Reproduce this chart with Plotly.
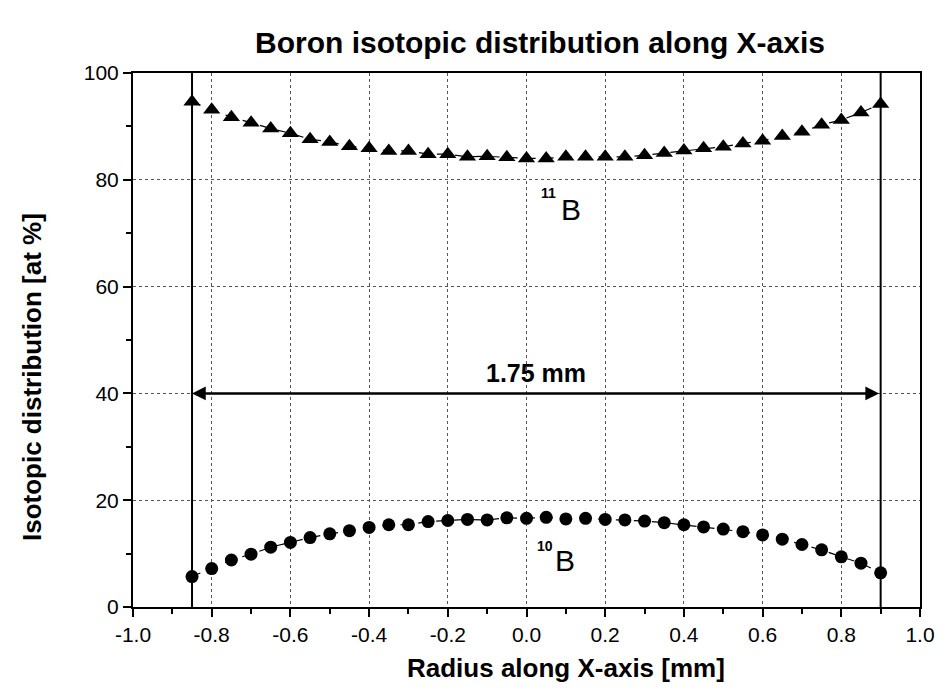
import plotly.graph_objects as go

x_vals = [-0.85, -0.80, -0.75, -0.70, -0.65, -0.60, -0.55, -0.50, -0.45, -0.40,
          -0.35, -0.30, -0.25, -0.20, -0.15, -0.10, -0.05, 0.00, 0.05, 0.10,
          0.15, 0.20, 0.25, 0.30, 0.35, 0.40, 0.45, 0.50, 0.55, 0.60,
          0.65, 0.70, 0.75, 0.80, 0.85, 0.90]

b11 = [94.6, 93.1, 91.7, 90.7, 89.6, 88.7, 87.6, 87.1, 86.3, 85.9,
       85.4, 85.4, 84.8, 84.8, 84.3, 84.4, 84.2, 84.0, 84.0, 84.3,
       84.3, 84.3, 84.3, 84.6, 85.0, 85.5, 85.9, 86.2, 86.8, 87.3,
       88.2, 89.0, 90.3, 91.2, 92.6, 94.2]

b10 = [5.7, 7.2, 8.8, 9.9, 11.2, 12.1, 13.0, 13.7, 14.3, 14.9,
       15.4, 15.4, 16.0, 16.2, 16.4, 16.3, 16.7, 16.6, 16.8, 16.5,
       16.6, 16.4, 16.3, 16.1, 15.8, 15.4, 15.0, 14.6, 14.1, 13.5,
       12.7, 11.7, 10.7, 9.4, 8.2, 6.4]

x_ticks = [-1.0, -0.8, -0.6, -0.4, -0.2, 0.0, 0.2, 0.4, 0.6, 0.8, 1.0]
x_tick_text = ["-1.0", "-0.8", "-0.6", "-0.4", "-0.2", "0.0", "0.2", "0.4", "0.6", "0.8", "1.0"]
y_ticks = [0, 20, 40, 60, 80, 100]

bracket_left = -0.85
bracket_right = 0.90
bracket_y = 40
bracket_label = "1.75 mm"

FONT = "Liberation Sans, Arial, sans-serif"

fig = go.Figure()
fig.add_trace(go.Scatter(
    x=x_vals, y=b11, mode="lines+markers", name="11B",
    line=dict(color="black", width=1.2, dash="dash"),
    marker=dict(symbol="triangle-up", size=15, color="black"),
))
fig.add_trace(go.Scatter(
    x=x_vals, y=b10, mode="lines+markers", name="10B",
    line=dict(color="black", width=1.2, dash="dash"),
    marker=dict(symbol="circle", size=13, color="black"),
))

# vertical boundary lines
for xv in (bracket_left, bracket_right):
    fig.add_shape(type="line", xref="x", yref="y", x0=xv, x1=xv, y0=0, y1=100,
                  line=dict(color="black", width=2))

# double-headed arrow
fig.add_annotation(x=bracket_left, y=bracket_y, ax=bracket_right, ay=bracket_y,
                   xref="x", yref="y", axref="x", ayref="y", text="",
                   showarrow=True, arrowhead=2, arrowside="end+start",
                   arrowsize=1.1, arrowwidth=2.5, arrowcolor="black")
fig.add_annotation(x=(bracket_left + bracket_right) / 2, y=bracket_y + 3.9,
                   xref="x", yref="y", text="<b>" + bracket_label + "</b>",
                   showarrow=False, font=dict(family=FONT, size=25, color="black"))

# isotope labels
fig.add_annotation(x=0.112, y=74.5, xref="x", yref="y", text="B", showarrow=False,
                   font=dict(family=FONT, size=30, color="black"))
fig.add_annotation(x=0.057, y=77.6, xref="x", yref="y", text="<b>11</b>", showarrow=False,
                   font=dict(family=FONT, size=14, color="black"))
fig.add_annotation(x=0.099, y=8.8, xref="x", yref="y", text="B", showarrow=False,
                   font=dict(family=FONT, size=30, color="black"))
fig.add_annotation(x=0.046, y=11.4, xref="x", yref="y", text="<b>10</b>", showarrow=False,
                   font=dict(family=FONT, size=14, color="black"))

# axis titles
fig.add_annotation(x=(570 - 133) / 795, y=(607 - 668) / 534, xref="paper", yref="paper",
                   text="<b>Radius along X-axis [mm]</b>", showarrow=False,
                   xanchor="center", yanchor="middle",
                   font=dict(family=FONT, size=26, color="black"))
fig.add_annotation(x=(31 - 133) / 795, y=(607 - 377) / 534, xref="paper", yref="paper",
                   text="<b>Isotopic distribution [at %]</b>", showarrow=False, textangle=-90,
                   xanchor="center", yanchor="middle",
                   font=dict(family=FONT, size=26, color="black"))

fig.update_layout(
    width=947, height=690,
    margin=dict(l=133, r=19, t=73, b=83),
    paper_bgcolor="white", plot_bgcolor="white",
    showlegend=False,
    title=dict(text="<b>Boron isotopic distribution along X-axis</b>",
               x=540 / 947, xanchor="center", y=1 - 42 / 690, yanchor="middle",
               font=dict(family=FONT, size=30, color="black")),
    font=dict(family=FONT, color="black"),
)

fig.update_xaxes(
    range=[-1.0, 1.0], tickmode="array", tickvals=x_ticks, ticktext=x_tick_text,
    ticks="outside", ticklen=8, tickwidth=2, tickcolor="black",
    minor=dict(dtick=0.1, ticks="outside", ticklen=5, tickwidth=2, tickcolor="black", showgrid=False),
    showline=True, linewidth=2, linecolor="black", mirror=True,
    showgrid=True, gridcolor="#555555", gridwidth=1, griddash="dot",
    zeroline=False,
    tickfont=dict(family=FONT, size=21, color="black"),
)
fig.update_yaxes(
    range=[0, 100], tickmode="array", tickvals=y_ticks,
    ticks="outside", ticklen=8, tickwidth=2, tickcolor="black",
    minor=dict(dtick=10, ticks="outside", ticklen=5, tickwidth=2, tickcolor="black", showgrid=False),
    showline=True, linewidth=2, linecolor="black", mirror=True,
    showgrid=True, gridcolor="#555555", gridwidth=1, griddash="dot",
    zeroline=False,
    tickfont=dict(family=FONT, size=21, color="black"),
)

fig.write_html("out.html")
